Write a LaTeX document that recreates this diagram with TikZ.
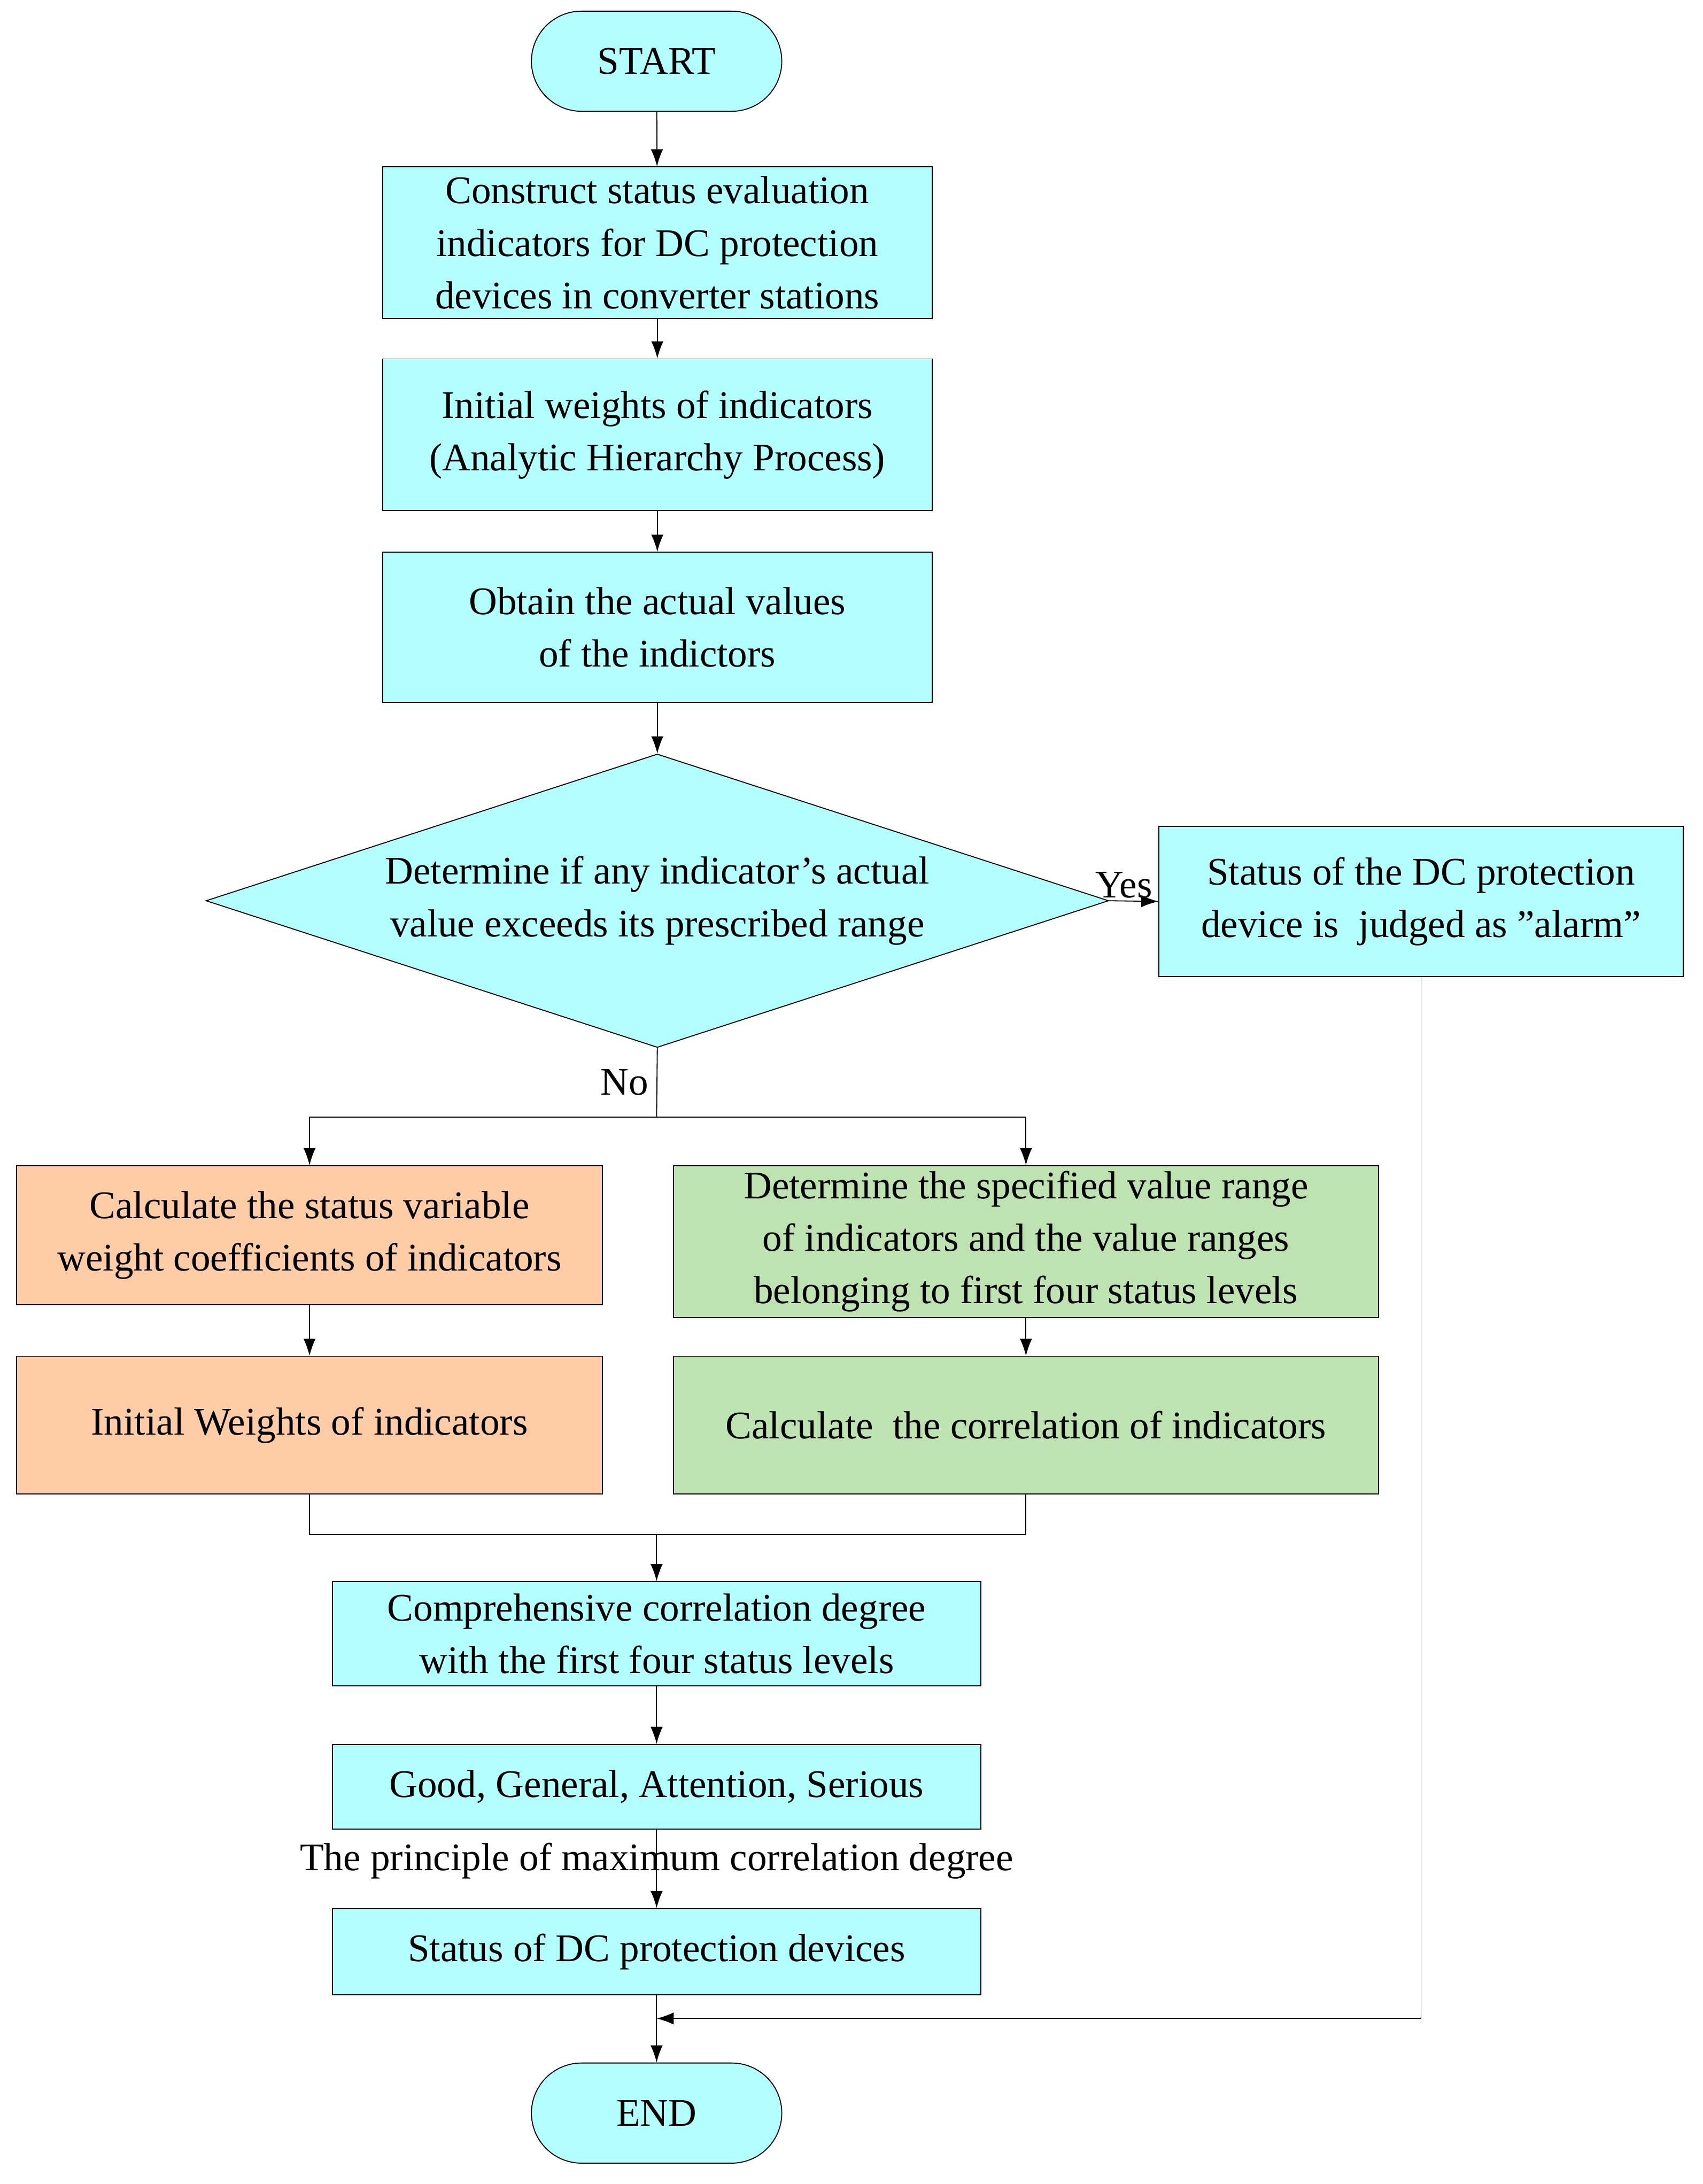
\documentclass[tikz,border=0pt]{standalone}
\usepackage{fontspec}
\setmainfont{Liberation Serif}
\usetikzlibrary{shapes.geometric,arrows.meta}
\definecolor{cy}{HTML}{B3FFFF}
\definecolor{og}{HTML}{FFCCA8}
\definecolor{gr}{HTML}{BEE2B2}
\begin{document}
\begin{tikzpicture}[x=0.02cm,y=-0.02cm,
  every node/.style={font=\fontsize{16}{21.5}\selectfont},
  box/.style={draw,thin,align=center,inner sep=0pt},
  arr/.style={-{Latex[length=7pt,width=5pt]},thin}]
\useasboundingbox (0,0) rectangle (1224,1570);
\node[box,fill=cy,rounded corners=0.72cm,minimum width=3.6cm,minimum height=1.44cm] (start) at (472,44) {START};
\node[box,fill=cy,minimum width=7.9cm,minimum height=2.18cm] (b1) at (472.5,174.5) {Construct status evaluation\\indicators for DC protection\\devices in converter stations};
\node[box,fill=cy,minimum width=7.9cm,minimum height=2.18cm] (b2) at (472.5,312.5) {Initial weights of indicators\\(Analytic Hierarchy Process)};
\node[box,fill=cy,minimum width=7.9cm,minimum height=2.16cm] (b3) at (472.5,451) {Obtain the actual values\\of the indictors};
\node[draw,thin,fill=cy,diamond,aspect=3.07,inner sep=0pt,minimum width=12.98cm,minimum height=4.22cm,align=center] (d) at (472.5,647.5) {Determine if any indicator's actual\\value exceeds its prescribed range};
\node[box,fill=cy,minimum width=7.54cm,minimum height=2.16cm] (al) at (1021.5,648) {Status of the DC protection\\device is \ judged as "alarm"};
\node[box,fill=og,minimum width=8.42cm,minimum height=2cm] (o1) at (222.5,888) {Calculate the status variable\\weight coefficients of indicators};
\node[box,fill=gr,minimum width=10.14cm,minimum height=2.18cm] (g1) at (737.5,892.5) {Determine the specified value range\\of indicators and the value ranges\\belonging to first four status levels};
\node[box,fill=og,minimum width=8.42cm,minimum height=1.98cm] (o2) at (222.5,1024.5) {Initial Weights of indicators};
\node[box,fill=gr,minimum width=10.14cm,minimum height=1.98cm] (g2) at (737.5,1024.5) {Calculate \ the correlation of indicators};
\node[box,fill=cy,minimum width=9.32cm,minimum height=1.5cm] (c) at (472,1174.5) {Comprehensive correlation degree\\with the first four status levels};
\node[box,fill=cy,minimum width=9.32cm,minimum height=1.22cm] (g) at (472,1284.5) {Good, General, Attention, Serious};
\node[box,fill=cy,minimum width=9.32cm,minimum height=1.24cm] (s) at (472,1403) {Status of DC protection devices};
\node[box,fill=cy,rounded corners=0.72cm,minimum width=3.6cm,minimum height=1.44cm] (end) at (472,1519) {END};
\coordinate (split) at (472,803);
\coordinate (merge) at (472,1103);
\coordinate (join) at (472,1451);
\draw[arr] (start) -- (b1);
\draw[arr] (b1) -- (b2);
\draw[arr] (b2) -- (b3);
\draw[arr] (b3) -- (d);
\draw[arr] (d.east) -- node[above,pos=0.3,inner sep=1pt]{Yes} (al.west);
\draw (d.south) -- node[left,pos=0.5]{No} (split);
\draw[arr] (split) -| (o1.north);
\draw[arr] (split) -| (g1.north);
\draw[arr] (o1) -- (o2);
\draw[arr] (g1) -- (g2);
\draw (o2.south) |- (merge) -| (g2.south);
\draw[arr] (merge) -- (c);
\draw[arr] (c) -- (g);
\draw[arr] (g) -- node[pos=0.4,fill=none]{The principle of maximum correlation degree} (s);
\draw[arr] (al.south) |- (join);
\draw[arr] (s) -- (end);
\end{tikzpicture}
\end{document}
